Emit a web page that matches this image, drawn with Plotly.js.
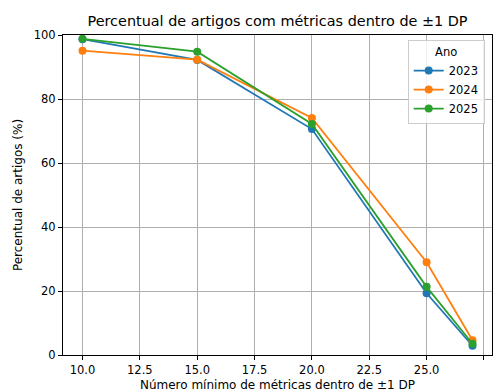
<!DOCTYPE html>
<html>
<head>
<meta charset="utf-8">
<script src="https://cdn.plot.ly/plotly-3.0.1.min.js"></script>
<style>html,body{margin:0;padding:0;background:#fff;}#chart{width:496px;height:392px;}</style>
</head>
<body>
<div id="chart"></div>
<script>
const minMetrics = [10, 15, 20, 25, 27];
const years = ["2023", "2024", "2025"];
const pct2023 = [98.7, 92.2, 70.6, 19.3, 2.9];
const pct2024 = [95.1, 92.3, 74.1, 29.0, 4.6];
const pct2025 = [98.8, 94.8, 72.2, 21.3, 3.5];
const xTicks = [10, 12.5, 15, 17.5, 20, 22.5, 25, 27.5];
const yTicks = [0, 20, 40, 60, 80, 100];
const colors = ["#1f77b4", "#ff7f0e", "#2ca02c"];
const seriesVals = [pct2023, pct2024, pct2025];

const font = "DejaVu Sans, sans-serif";
const traces = years.map((y, i) => ({
  x: minMetrics, y: seriesVals[i], name: y, type: "scatter", mode: "lines+markers",
  line: {color: colors[i], width: 1.8}, marker: {color: colors[i], size: 8}
}));

const axisCommon = {
  showline: true, mirror: true, linecolor: "#000", linewidth: 1,
  ticks: "outside", ticklen: 4, tickcolor: "#000", tickwidth: 1,
  showgrid: true, gridcolor: "#b0b0b0", gridwidth: 1, zeroline: false,
  tickfont: {family: font, size: 11.5, color: "#000"}
};

const layout = {
  width: 496, height: 392,
  margin: {l: 63, r: 4, t: 35, b: 37},
  paper_bgcolor: "#fff", plot_bgcolor: "#fff",
  font: {family: font, color: "#000"},
  title: {text: "Percentual de artigos com métricas dentro de ±1 DP", font: {family: font, size: 14.4, color: "#000"},
    x: 0.5, xref: "paper", y: 1 - 21/392, yref: "container", yanchor: "middle"},
  xaxis: Object.assign({}, axisCommon, {range: [9.15, 27.85], tickvals: xTicks, tickformat: ".1f",
    title: {text: "Número mínimo de métricas dentro de ±1 DP", font: {family: font, size: 12, color: "#000"}, standoff: 4}}),
  yaxis: Object.assign({}, axisCommon, {range: [0, 100], tickvals: yTicks,
    title: {text: "Percentual de artigos (%)", font: {family: font, size: 12, color: "#000"}, standoff: 8}}),
  showlegend: true,
  legend: {x: 0.983, xanchor: "right", y: 0.984, yanchor: "top",
    bgcolor: "rgba(255,255,255,0.8)", bordercolor: "#cccccc", borderwidth: 1,
    font: {family: font, size: 11.5, color: "#000"},
    title: {text: "Ano", side: "top center", font: {family: font, size: 11.5, color: "#000"}},
    tracegroupgap: 0, itemwidth: 30}
};
Plotly.newPlot("chart", traces, layout, {displayModeBar: false, staticPlot: true});
</script>
</body>
</html>
